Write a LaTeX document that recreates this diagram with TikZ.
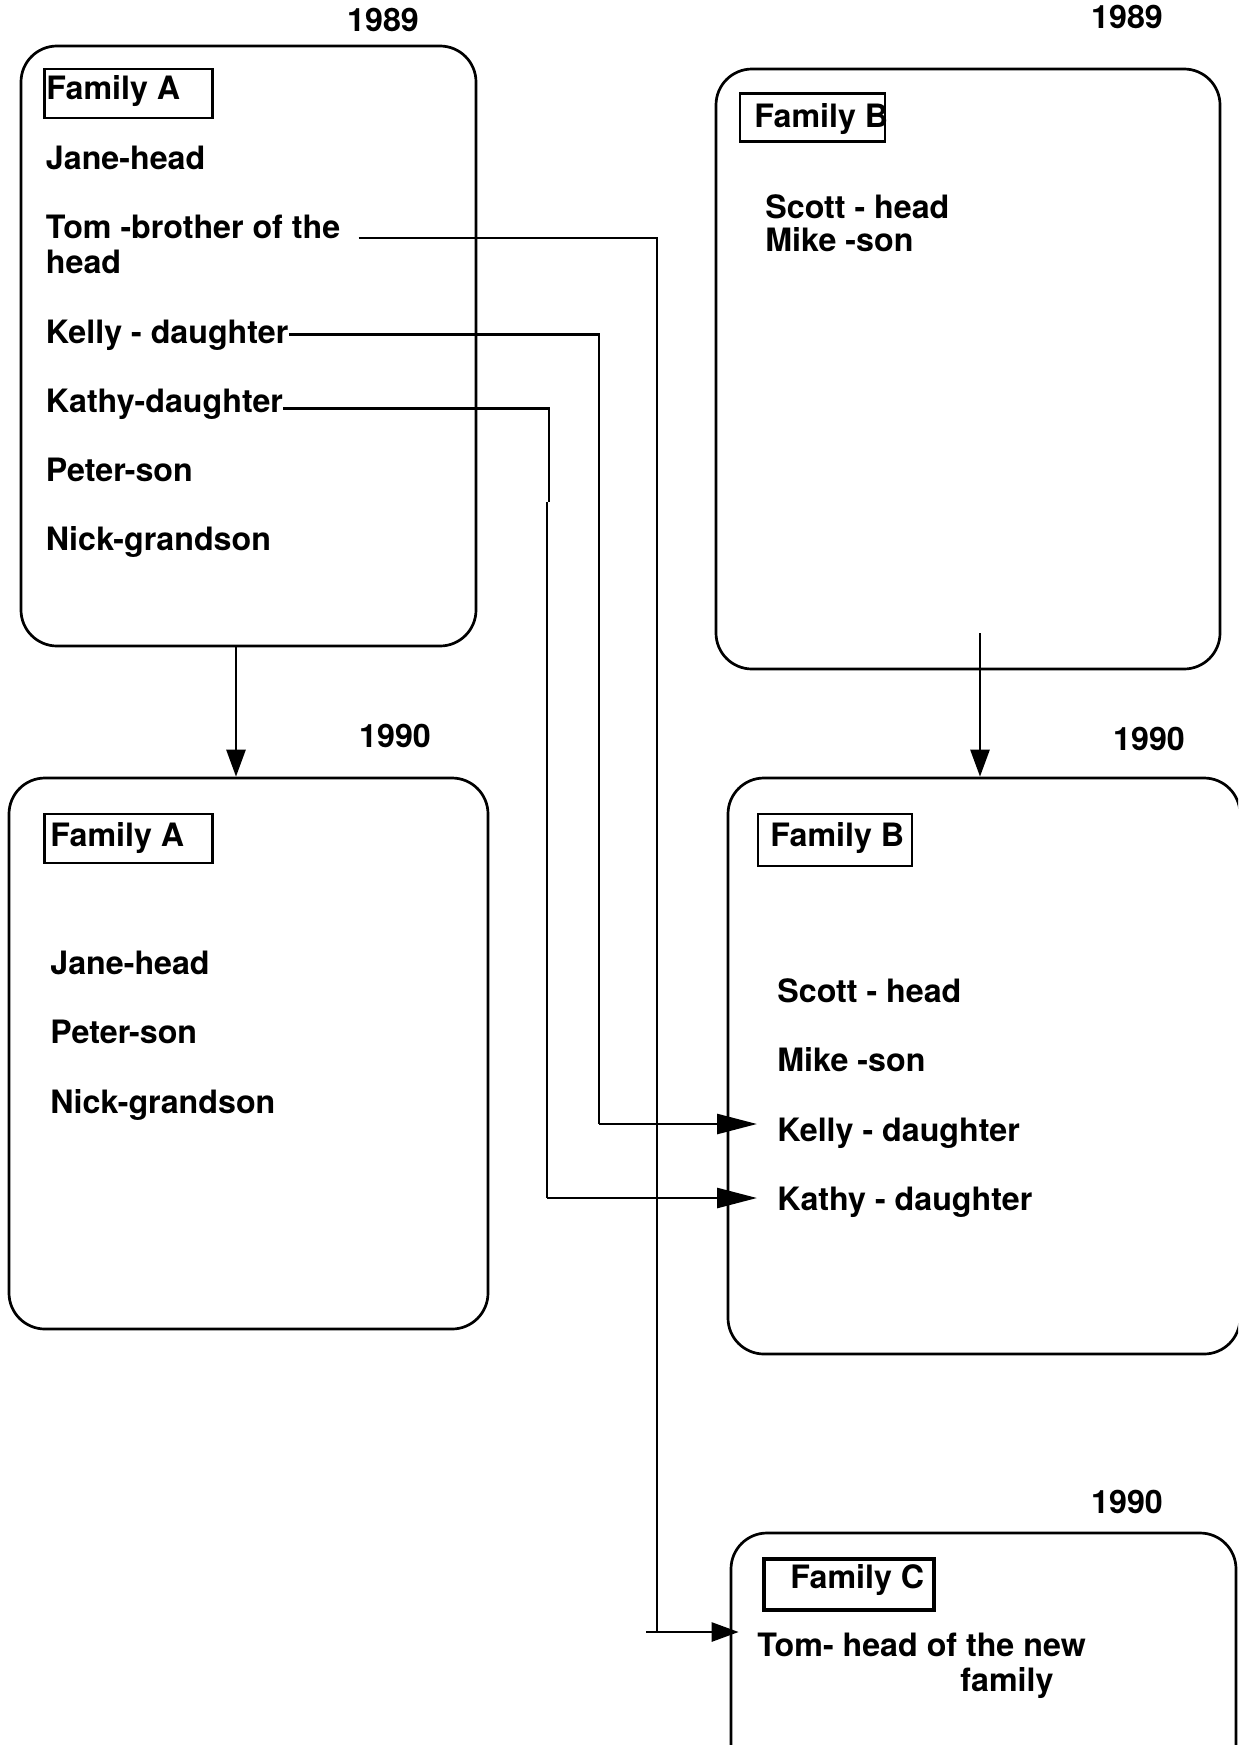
\documentclass[tikz,border=0pt]{standalone}
\usepackage{fontspec}
\setmainfont{TeX Gyre Heros}
\usetikzlibrary{arrows.meta}

\begin{document}
\begin{tikzpicture}[x=0.5pt,y=-0.5pt,
  line/.style={line width=1.35pt},
  arr/.style={line width=1.35pt,-{Triangle[length=13.5pt,width=9.5pt]}},
  arrlong/.style={line width=1.35pt,-{Triangle[length=20pt,width=10pt]}},
  family/.style={draw,line width=1.35pt,rounded corners=18pt,inner sep=0pt},
  tag/.style={draw,line width=1.1pt,inner sep=0pt},
  txt/.style={inner sep=0pt,anchor=base west,font=\bfseries\fontsize{16.1}{19}\selectfont},
  year/.style={inner sep=0pt,anchor=base,font=\bfseries\fontsize{16.1}{19}\selectfont}]

\useasboundingbox (0,0) rectangle (1238,1745);
\fill[white] (0,0) rectangle (1238,1745);
\clip (0,0) rectangle (1238,1745);

% household frames
\node[family,minimum width=227.5pt,minimum height=300pt] (boxA1) at (248.5,346) {};
\node[family,minimum width=239.5pt,minimum height=275.5pt] (boxA2) at (248.5,1053.5) {};
\node[family,minimum width=252pt,minimum height=300pt] (boxB1) at (968,369) {};
\node[family,minimum width=256pt,minimum height=288pt] (boxB2) at (984,1066) {};
\node[family,minimum width=252.5pt,minimum height=128.5pt] (boxC) at (983.5,1661.5) {};

% years
\node[year] (yA1) at (383,31.5) {1989};
\node[year] (yB1) at (1127,28.5) {1989};
\node[year] (yA2) at (395,747.5) {1990};
\node[year] (yB2) at (1149,750.5) {1990};
\node[year] (yC)  at (1127,1513.5) {1990};

% family name tags
\node[tag,minimum width=84pt,minimum height=24.5pt] (tagA1) at (128.5,93.5) {};
\node[tag,minimum width=84pt,minimum height=24.5pt] (tagA2) at (128.5,838.5) {};
\node[tag,minimum width=72.5pt,minimum height=24pt] (tagB1) at (812.5,117.5) {};
\node[tag,minimum width=77pt,minimum height=26pt] (tagB2) at (835,840) {};
\node[tag,line width=2pt,minimum width=85pt,minimum height=25.5pt] (tagC) at (849,1584.5) {};
\node[txt] (nA1) at (46,99) {Family A};
\node[txt] (nA2) at (50,846) {Family A};
\node[txt] (nB1) at (754,127) {Family B};
\node[txt] (nB2) at (770,846) {Family B};
\node[txt] (nC)  at (790,1588) {Family C};

% Family A, 1989
\node[txt] (janeA)  at (45.6,169) {Jane-head};
\node[txt] (tomA)   at (45.6,238) {Tom -brother of the};
\node[txt] (tomA2)  at (45.6,273) {head};
\node[txt] (kellyA) at (45.6,343) {Kelly - daughter};
\node[txt] (kathyA) at (45.6,412) {Kathy-daughter};
\node[txt] (peterA) at (45.6,481) {Peter-son};
\node[txt] (nickA)  at (45.6,550) {Nick-grandson};

% Family B, 1989
\node[txt] (scottB1) at (765,218) {Scott - head};
\node[txt] (mikeB1)  at (765,251.5) {Mike -son};

% Family A, 1990
\node[txt] (janeA2)  at (50,974) {Jane-head};
\node[txt] (peterA2) at (50,1043) {Peter-son};
\node[txt] (nickA2)  at (50,1113) {Nick-grandson};

% Family B, 1990
\node[txt] (scottB) at (777,1002) {Scott - head};
\node[txt] (mikeB)  at (777,1071) {Mike -son};
\node[txt] (kellyB) at (777,1141) {Kelly - daughter};
\node[txt] (kathyB) at (777,1210) {Kathy - daughter};

% Family C, 1990
\node[txt] (tomC)  at (757,1656) {Tom- head of the new};
\node[txt] (tomC2) at (960,1691) {family};

% bend points of the moves
\coordinate (kellyV) at (599,1124);
\coordinate (kathyJ) at (549,502);
\coordinate (kathyV) at (547,1198);
\coordinate (tomV)   at (657,1632);

% year-to-year links
\draw[arr] ([xshift=-6.25pt]boxA1.south) -- ([xshift=-6.25pt]boxA2.north);
\draw[arr] ([xshift=6pt,yshift=18.5pt]boxB1.south) -- ([xshift=-2pt]boxB2.north);

% members moving out
\draw[line] (kellyA.east) -| (kellyV);
\draw[arrlong,shorten >=10pt] (kellyV) -- (kellyV -| kellyB.west);
\draw[line] ([yshift=-2.5pt]kathyA.east) -| (kathyJ);
\draw[line] (kathyJ -| kathyV) -- (kathyV);
\draw[arrlong,shorten >=10pt] (kathyV) -- (kathyV -| kathyB.west);
\draw[line] ([xshift=9pt]tomA.base east) -| (tomV);
\draw[arr,shorten >=-4.5pt] ([xshift=-5.5pt]tomV) -- (tomV -| boxC.west);

\end{tikzpicture}
\end{document}
